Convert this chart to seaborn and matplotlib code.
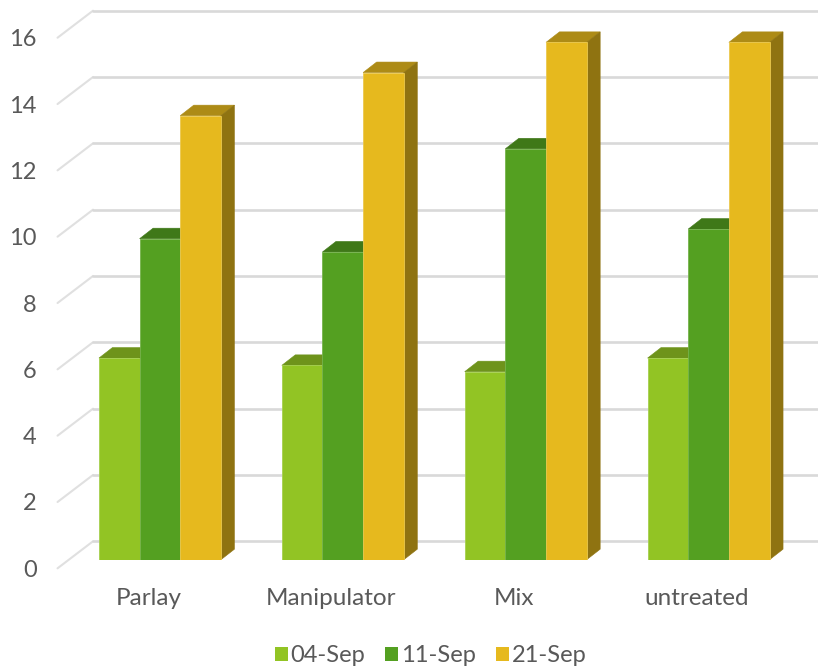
import matplotlib
matplotlib.use("Agg")
import matplotlib.pyplot as plt
import matplotlib.transforms as mtrans
from matplotlib.patches import Polygon
import pandas as pd
import seaborn as sns

treatments = ["Parlay", "Manipulator", "Mix", "untreated"]
dates = ["04-Sep", "11-Sep", "21-Sep"]
sep_04 = [6.08, 5.86, 5.67, 6.08]
sep_11 = [9.68, 9.28, 12.39, 9.97]
sep_21 = [13.39, 14.69, 15.60, 15.60]
y_ticks = [0, 2, 4, 6, 8, 10, 12, 14, 16]

front_colors = ["#92C424", "#54A021", "#E6B91E"]
edge_colors = ["#A6D04F", "#76B34D", "#EBC94F"]
top_colors = ["#6E931B", "#3F7818", "#AD8B16"]
side_colors = ["#587615", "#326013", "#8F7311"]
text_color = "#595959"
grid_color = "#D9D9D9"

sns.set_theme(style="white")
plt.rcParams["font.family"] = ["Lato", "DejaVu Sans"]

long_form = pd.DataFrame({
    "treatment": treatments * 3,
    "date": [d for d in dates for _ in treatments],
    "value": sep_04 + sep_11 + sep_21,
})

W, H = 818, 668
fig = plt.figure(figsize=(W / 100, H / 100), dpi=100, facecolor="white")
ax = fig.add_axes([68.5 / W, 1 - 559.7 / H, 731.5 / W, 530.6 / H])

sns.barplot(data=long_form, x="treatment", y="value", hue="date",
            order=treatments, hue_order=dates, palette=front_colors,
            width=0.667, gap=0, saturation=1, errorbar=None,
            linewidth=0, ax=ax, zorder=3)
ax.set_xlim(-0.5, 3.5)
ax.set_ylim(0, 16)
ax.set_xlabel("")
ax.set_ylabel("")
ax.set_facecolor("none")
sns.despine(ax=ax, left=True, bottom=True)

# Wall and floor lines of the fake 3D box
wall_front_x, wall_back_x, wall_right_x = -0.56, -0.366, 3.6
wall_front_dy, wall_back_dy = -0.26, 0.555
for v in y_ticks:
    ax.plot([wall_front_x, wall_back_x], [v + wall_front_dy, v + wall_back_dy],
            color="#E0E0E0", lw=1.5, clip_on=False, zorder=1)
    ax.plot([wall_back_x, wall_right_x], [v + wall_back_dy, v + wall_back_dy],
            color=grid_color, lw=1.9, clip_on=False, zorder=1)

# Extruded top and side faces of every bar
depth_x, depth_y = 13.5 / 183, 10.5 / 33.16
for k, container in enumerate(ax.containers):
    for bar in container:
        bar.set_edgecolor(edge_colors[k])
        bar.set_linewidth(0.6)
        x0, x1, v = bar.get_x(), bar.get_x() + bar.get_width(), bar.get_height()
        ax.add_patch(Polygon([(x0, v), (x1, v), (x1 + depth_x, v + depth_y), (x0 + depth_x, v + depth_y)],
                             closed=True, fc=top_colors[k], ec=top_colors[k], lw=0.4, zorder=2, clip_on=False))
        ax.add_patch(Polygon([(x1, 0), (x1 + depth_x, depth_y), (x1 + depth_x, v + depth_y), (x1, v)],
                             closed=True, fc=side_colors[k], ec=side_colors[k], lw=0.4, zorder=2, clip_on=False))

ax.set_yticks(y_ticks)
ax.set_yticklabels([str(v) for v in y_ticks])
ax.tick_params(axis="y", length=0, pad=23, labelsize=17, labelcolor=text_color)
ax.tick_params(axis="x", length=0, pad=20.5, labelsize=17.5, labelcolor=text_color)
shift_y = mtrans.ScaledTranslation(0, -8.6 / 100, fig.dpi_scale_trans)
shift_x = mtrans.ScaledTranslation(-11.5 / 100, 0, fig.dpi_scale_trans)
for lab in ax.get_yticklabels():
    lab.set_transform(lab.get_transform() + shift_y)
for lab in ax.get_xticklabels():
    lab.set_transform(lab.get_transform() + shift_x)

sns.move_legend(ax, "center", bbox_to_anchor=(430.5 / W, 1 - 656 / H),
                bbox_transform=fig.transFigure, ncol=3, frameon=False, title=None,
                fontsize=17, labelcolor=text_color, handlelength=0.55, handleheight=0.55,
                handletextpad=0.1, columnspacing=0.87, borderpad=0, borderaxespad=0)

fig.savefig("out.png", dpi=100, facecolor="white")
